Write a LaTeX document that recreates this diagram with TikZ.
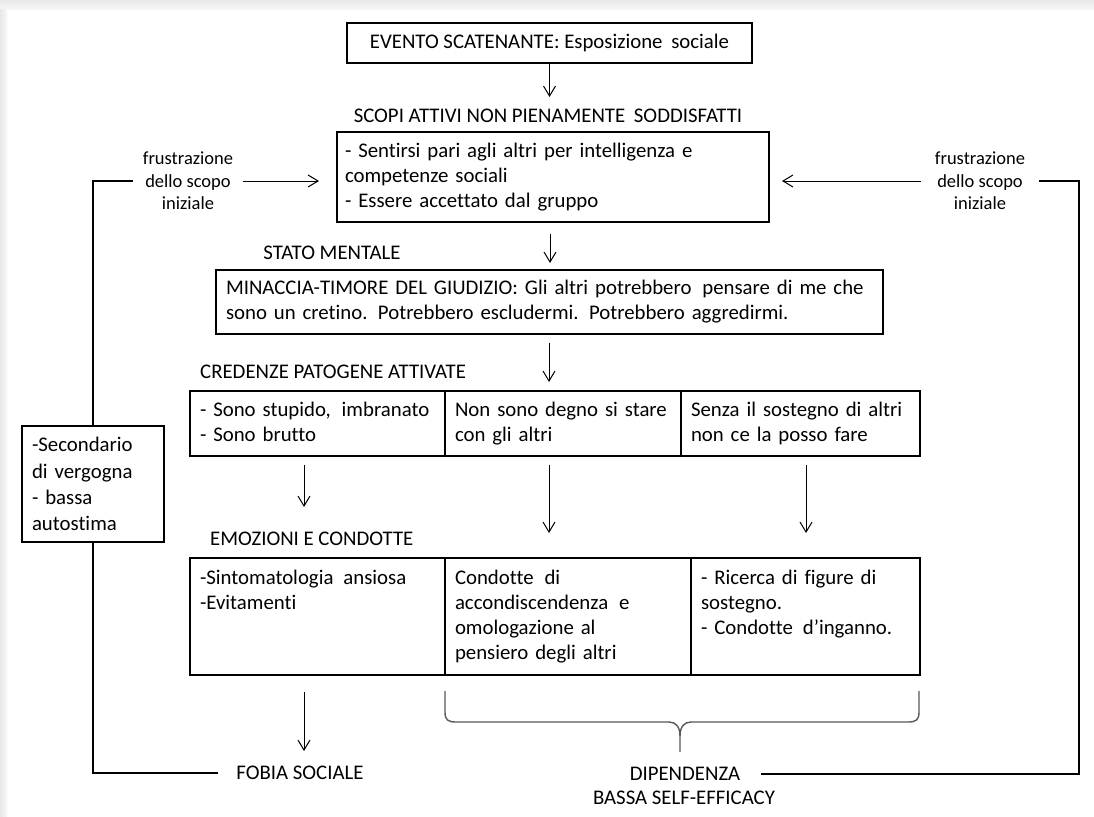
\documentclass[tikz,border=0pt]{standalone}
\usepackage{fontspec}
\setmainfont[Ligatures={NoCommon}]{Carlito}
\usetikzlibrary{arrows.meta}
\begin{document}
\begin{tikzpicture}[x=1pt,y=-1pt,
  every node/.style={font=\fontsize{20.8}{25}\selectfont, inner sep=0pt},
  bx/.style={draw, line width=1.1pt, align=left},
  arr/.style={-{Straight Barb[length=10pt,width=12pt]}, line width=1pt},
  fb/.style={line width=1.1pt},
  small/.style={font=\fontsize{18.5}{22.5}\selectfont, align=center},
  brc/.style={line width=1.4pt, black!65}]
\useasboundingbox (0,0) rectangle (1094,816);
\fill[white] (0,0) rectangle (1094,816);
\shade[top color=black!9, bottom color=black!3] (0,0) rectangle (1094,10);
\shade[left color=black!9, right color=black!3] (0,10) rectangle (7,816);

% top
\node[bx, minimum width=405pt, minimum height=40pt] (ev) at (549.5,43) {EVENTO SCATENANTE: Esposizione\hspace{4pt} sociale};
\node (t1) at (548,116) {SCOPI ATTIVI NON PIENAMENTE\hspace{4pt} SODDISFATTI};
\node[bx, line width=2pt, text width=416pt, inner xsep=8pt, minimum height=90pt] (sc) at (553,177)
  {- Sentirsi pari agli altri per intelligenza e\\competenze sociali\\- Essere accettato dal gruppo};
\node (t2) at (332,253) {STATO MENTALE};
\node[bx, text width=647pt, inner xsep=10pt, minimum height=64pt] (mt) at (549.5,302)
  {MINACCIA-TIMORE DEL GIUDIZIO: Gli altri potrebbero\hspace{4pt} pensare di me che\\sono un cretino. Potrebbero escludermi. Potrebbero aggredirmi.};

% credenze
\node[anchor=west] (t3) at (200,372) {CREDENZE PATOGENE ATTIVATE};
\node[bx, text width=235pt, inner xsep=10pt, minimum height=65pt] (c11) at (317.5,423.5)
  {\strut- Sono stupido,\hspace{4pt} imbranato\\- Sono brutto\strut};
\node[bx, text width=216pt, inner xsep=10pt, minimum height=65pt] (c12) at (563,423.5)
  {\strut Non sono degno si stare\\con gli altri\strut};
\node[bx, text width=219pt, inner xsep=10pt, minimum height=65pt] (c13) at (800.5,423.5)
  {\strut Senza il sostegno di altri\\non ce la posso fare\strut};

% emozioni
\node[anchor=west] (t4) at (210,539) {EMOZIONI E CONDOTTE};
\node[bx, text width=235pt, inner xsep=10pt, minimum height=117pt] (e1) at (317.5,616.5)
  {\strut-Sintomatologia\hspace{3pt} ansiosa\\-Evitamenti\strut\\\strut\\\strut};
\node[bx, text width=226pt, inner xsep=10pt, minimum height=117pt] (e2) at (568,616.5)
  {\strut Condotte\hspace{4pt} di\\accondiscendenza\hspace{4pt} e\\omologazione al\\pensiero degli altri\strut};
\node[bx, text width=209pt, inner xsep=10pt, minimum height=117pt] (e3) at (805.5,616.5)
  {\strut- Ricerca di figure di\\sostegno.\\- Condotte\hspace{3pt} d’inganno.\\\strut};

% side box
\node[bx, text width=122pt, inner xsep=10pt, minimum height=116pt, font=\fontsize{20.8}{26.3}\selectfont] (sec) at (93,484)
  {-Secondario\\di vergogna\\- bassa\\autostima};

% feedback labels
\node[small, inner xsep=10pt] (frL) at (188,181) {frustrazione\\dello scopo\\iniziale};
\node[small, inner xsep=14pt] (frR) at (980,181) {frustrazione\\dello scopo\\iniziale};

% outcomes
\node[inner xsep=18pt] (fob) at (300,773) {FOBIA SOCIALE};
\node[inner xsep=21pt] (dip) at (685,774) {DIPENDENZA};
\node (bse) at (684,798) {BASSA SELF-EFFICACY};

% arrow end points
\coordinate (a1) at (549.5,97);
\coordinate (a2) at (550,263);
\coordinate (a3) at (549,382);
\coordinate (a4) at (304,507);
\coordinate (a5) at (549,533);
\coordinate (a6) at (806,533);
\coordinate (a7) at (304,751);
\coordinate (aL) at (319,181);
\coordinate (aR) at (782,181);
\coordinate (rc) at (1079,500);

\draw[arr] (ev.south) -- (a1);
\draw[arr] ([yshift=-11pt]sc.south -| a2) -- (a2);
\draw[arr] ([yshift=-8pt]mt.south -| a3) -- (a3);
\draw[arr] ([yshift=-8pt]c11.south -| a4) -- (a4);
\draw[arr] ([yshift=-8pt]c12.south -| a5) -- (a5);
\draw[arr] ([yshift=-8pt]c13.south -| a6) -- (a6);
\draw[arr] ([yshift=-16pt]e1.south -| a7) -- (a7);
\draw[arr] (frL.east) -- (aL);
\draw[arr] (frR.west) -- (aR);

% feedback loops
\draw[fb] (sec.north) |- (frL.west);
\draw[fb] (fob.west) -| (sec.south);
\draw[fb] (frR.east) -| (rc) |- (dip.east);

% brace
\draw[brc] (445,691) -- (445,712) .. controls (445,720) and (448,722) .. (456,722) -- (669,722)
  .. controls (676,722) and (680,727) .. (680,736) -- (680,752);
\draw[brc] (919,691) -- (919,712) .. controls (919,720) and (916,722) .. (908,722) -- (691,722)
  .. controls (684,722) and (680,727) .. (680,736);
\end{tikzpicture}
\end{document}
